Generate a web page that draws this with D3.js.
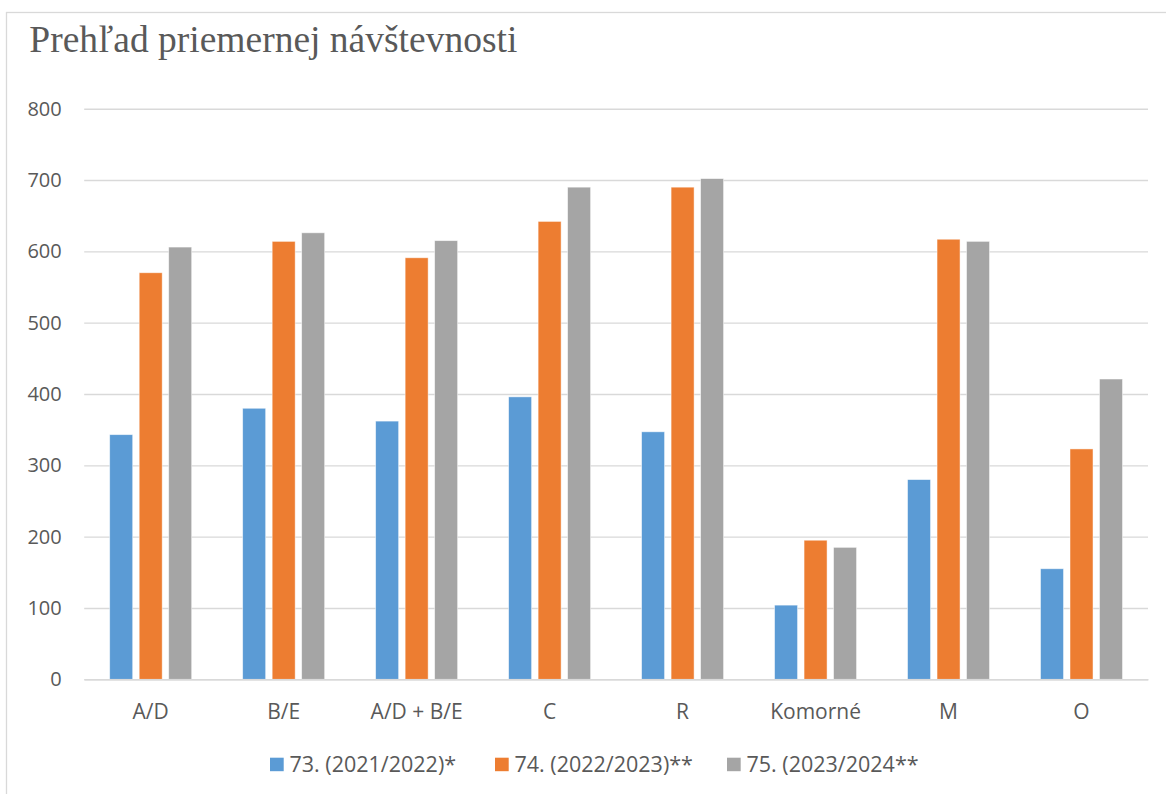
<!DOCTYPE html>
<html><head><meta charset="utf-8">
<script src="https://cdn.jsdelivr.net/npm/d3@7"></script>
<style>
html,body{margin:0;padding:0;background:#fff;}
svg{display:block;}
</style></head>
<body>
<svg id="chart" width="1166" height="794"></svg>
<script>
const categories = ["A/D", "B/E", "A/D + B/E", "C", "R", "Komorné", "M", "O"];
const seriesNames = ["73. (2021/2022)*", "74. (2022/2023)**", "75. (2023/2024**"];
const s73 = [343, 380, 362, 396, 347, 104, 280, 155];
const s74 = [570, 614, 591, 642, 690, 195, 617, 323];
const s75 = [606, 626, 615, 690, 702, 185, 614, 421];
const yTicks = [0, 100, 200, 300, 400, 500, 600, 700, 800];
const colors = ["#5B9BD5", "#ED7D31", "#A5A5A5"];
const title = "Prehľad priemernej návštevnosti";

const series = [s73, s74, s75];
const svg = d3.select("#chart");
const W = 1166, H = 794;
const plot = {left: 84.2, right: 1148, top: 108.7, bottom: 679.3};
const textColor = "#595959";
const font = "'Open Sans', 'Noto Sans', sans-serif";

// chart border
svg.append("rect").attr("x", 6.5).attr("y", 12.5).attr("width", W + 10).attr("height", H + 10)
  .attr("fill", "none").attr("stroke", "#D9D9D9").attr("stroke-width", 1.3);

// title
svg.append("text").attr("x", 29.3).attr("y", 52)
  .attr("font-family", "'Liberation Serif', 'Times New Roman', serif")
  .attr("font-size", 37.5).attr("fill", textColor).text(title);

const x = d3.scaleBand().domain(categories).range([plot.left, plot.right]).padding(0);
const xs = d3.scaleBand().domain(d3.range(series.length)).range([0, x.bandwidth()])
  .paddingInner(0.22).paddingOuter(0.864);
const y = d3.scaleLinear().domain([0, 800]).range([plot.bottom, plot.top]);

// gridlines
const yAxis = d3.axisLeft(y).tickValues(yTicks).tickSize(-(plot.right - plot.left)).tickPadding(22.5);
const gy = svg.append("g").attr("transform", `translate(${plot.left},0)`).call(yAxis);
gy.select(".domain").remove();
gy.selectAll(".tick line").attr("stroke", "#D9D9D9").attr("stroke-width", 1.4);
gy.selectAll(".tick text").attr("font-family", font).attr("font-size", 20).attr("fill", textColor);

// bars
const groups = svg.append("g").selectAll("g").data(categories).join("g")
  .attr("transform", d => `translate(${x(d)},0)`);
groups.selectAll("rect").data((d, i) => series.map((s, k) => ({k, v: s[i]}))).join("rect")
  .attr("x", d => xs(d.k)).attr("width", xs.bandwidth())
  .attr("y", d => y(d.v)).attr("height", d => y(0) - y(d.v))
  .attr("fill", d => colors[d.k])
  .attr("stroke", "#fff").attr("stroke-opacity", 0.6).attr("stroke-width", 0.8);

// x axis baseline
const xAxis = d3.axisBottom(x).tickSize(0).tickPadding(25);
const gx = svg.append("g").attr("transform", `translate(0,${plot.bottom})`).call(xAxis);
gx.select(".domain").attr("stroke", "#D9D9D9").attr("stroke-width", 1.6);
gx.selectAll(".tick text").attr("font-family", font).attr("font-size", 21).attr("fill", textColor);

// legend
const legendX = [270, 495, 727];
const lg = svg.append("g").selectAll("g").data(seriesNames).join("g")
  .attr("transform", (d, i) => `translate(${legendX[i]},757.7)`);
lg.append("rect").attr("width", 13.7).attr("height", 13.5).attr("fill", (d, i) => colors[i]);
lg.append("text").attr("x", 19.5).attr("y", 14)
  .attr("font-family", font).attr("font-size", 21.5).attr("fill", textColor).text(d => d);
</script>
</body></html>
